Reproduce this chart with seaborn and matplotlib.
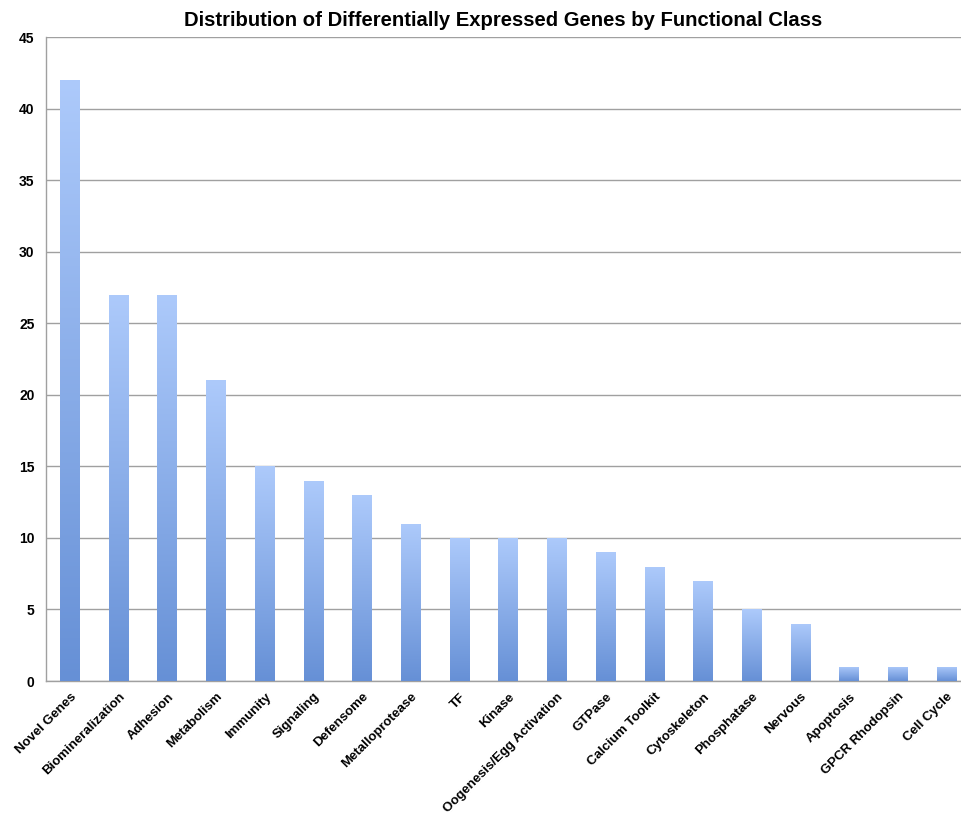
import numpy as np
import pandas as pd
import matplotlib
matplotlib.use("Agg")
import matplotlib.pyplot as plt
import seaborn as sns
from matplotlib.colors import LinearSegmentedColormap

categories = [
    "Novel Genes", "Biomineralization", "Adhesion", "Metabolism", "Immunity",
    "Signaling", "Defensome", "Metalloprotease", "TF", "Kinase",
    "Oogenesis/Egg Activation", "GTPase", "Calcium Toolkit", "Cytoskeleton",
    "Phosphatase", "Nervous", "Apoptosis", "GPCR Rhodopsin", "Cell Cycle",
]
counts = [42, 27, 27, 21, 15, 14, 13, 11, 10, 10, 10, 9, 8, 7, 5, 4, 1, 1, 1]
y_ticks = [0, 5, 10, 15, 20, 25, 30, 35, 40, 45]

df = pd.DataFrame({"Functional Class": categories, "Genes": counts})

sns.set_theme(style="white")
plt.rcParams["font.family"] = ["Liberation Sans", "DejaVu Sans"]
plt.rcParams["font.weight"] = "bold"
plt.rcParams["text.color"] = "black"
plt.rcParams["xtick.color"] = "black"
plt.rcParams["ytick.color"] = "black"

fig = plt.figure(figsize=(9.61, 8.15), dpi=100)
ax = fig.add_axes([0.0475, 0.1644, 0.963, 0.7902])

sns.barplot(data=df, x="Functional Class", y="Genes", color="#8ab0ec",
            width=0.41, ax=ax, zorder=3)

# vertical light-to-dark gradient inside each bar
grad_cmap = LinearSegmentedColormap.from_list("bar_grad", ["#6690d6", "#adcafb"])
gradient = np.linspace(0, 1, 256).reshape(-1, 1)
for patch in ax.patches:
    x0, y0 = patch.get_x(), patch.get_y()
    w, h = patch.get_width(), patch.get_height()
    patch.set_facecolor("none")
    patch.set_edgecolor("none")
    img = ax.imshow(gradient, cmap=grad_cmap, origin="lower", aspect="auto",
                    extent=[x0, x0 + w, y0, y0 + h], zorder=3,
                    interpolation="bicubic")
    img.set_clip_path(patch)

ax.set_xlim(-0.5, len(categories) - 0.5)
ax.set_ylim(0, 45)
ax.set_yticks(y_ticks)
ax.set_yticklabels([str(t) for t in y_ticks], fontsize=10, fontweight="bold",
                   color="black")
ax.yaxis.grid(True, color="#a0a0a0", linewidth=1.0, zorder=0)
ax.xaxis.grid(False)

ax.set_xticks(np.arange(len(categories)))
ax.set_xticklabels(categories, rotation=45, ha="right", rotation_mode="anchor",
                   fontsize=9.5, fontweight="bold", color="black")
ax.tick_params(axis="x", length=0, pad=7)
ax.set_xticks(np.arange(len(categories) + 1) - 0.5, minor=True)
ax.tick_params(axis="x", which="minor", length=4, color="#a0a0a0", width=1)
ax.tick_params(axis="y", length=0, pad=8)

ax.set_xlabel("")
ax.set_ylabel("")
for side in ["top", "right"]:
    ax.spines[side].set_visible(False)
for side in ["left", "bottom"]:
    ax.spines[side].set_color("#a0a0a0")
    ax.spines[side].set_linewidth(1.0)

fig.text(0.524, 0.975, "Distribution of Differentially Expressed Genes by Functional Class",
         ha="center", va="center", fontsize=14.6, fontweight="bold", color="black")

fig.savefig("out.png", dpi=100)
